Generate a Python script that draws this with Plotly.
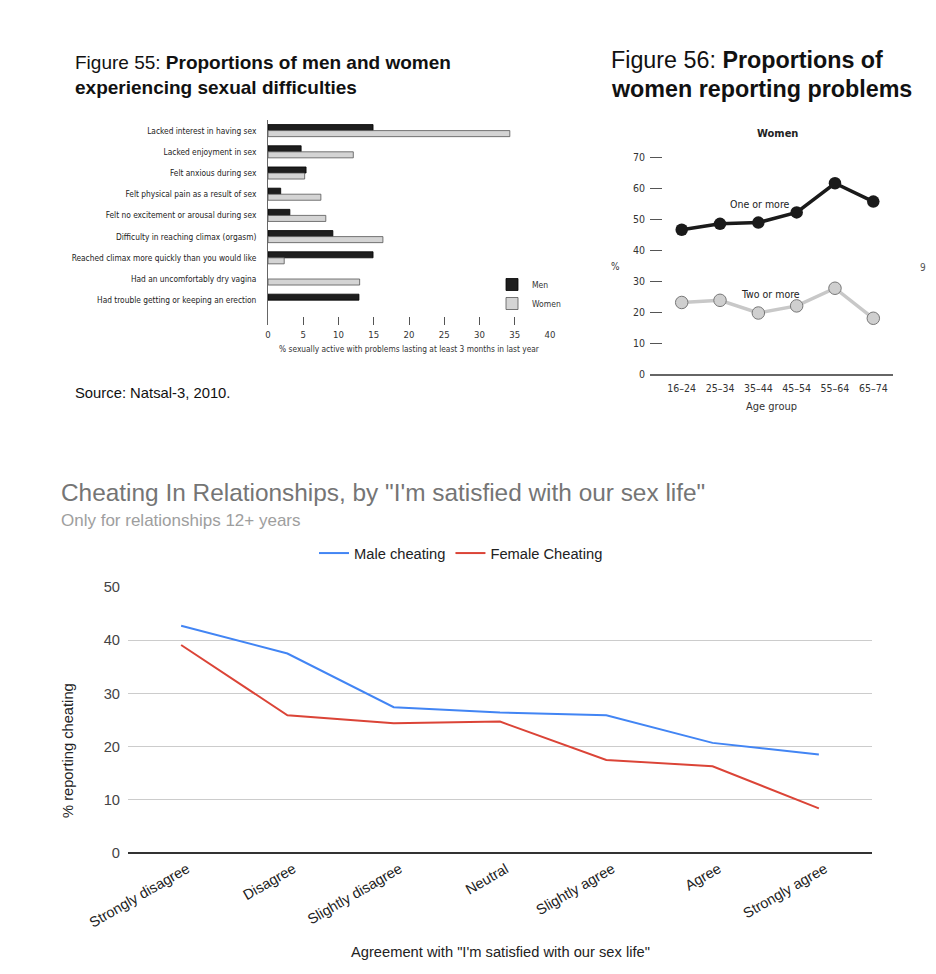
import plotly.graph_objects as go

W, H = 936, 974

def fx(p):
    return p / W

def fy(p):
    return 1 - p / H

NARROW = "Liberation Sans Narrow, Arial Narrow, DejaVu Sans Condensed, Liberation Sans, sans-serif"
ARIAL = "Liberation Sans, Arial, sans-serif"

# ---------------- Figure 55 data ----------------
difficulties = [
    "Lacked interest in having sex",
    "Lacked enjoyment in sex",
    "Felt anxious during sex",
    "Felt physical pain as a result of sex",
    "Felt no excitement or arousal during sex",
    "Difficulty in reaching climax (orgasm)",
    "Reached climax more quickly than you would like",
    "Had an uncomfortably dry vagina",
    "Had trouble getting or keeping an erection",
]
men_pct = [14.9, 4.7, 5.4, 1.8, 3.1, 9.2, 14.9, None, 12.9]
women_pct = [34.3, 12.1, 5.2, 7.5, 8.2, 16.3, 2.3, 13.0, None]
bar_ticks = [0, 5, 10, 15, 20, 25, 30, 35, 40]

# ---------------- Figure 56 data ----------------
age_groups = ["16–24", "25–34", "35–44", "45–54", "55–64", "65–74"]
one_or_more = [46.6, 48.5, 48.9, 52.2, 61.6, 55.7]
two_or_more = [23.1, 23.8, 19.7, 22.0, 27.7, 18.0]
age_ticks = [0, 10, 20, 30, 40, 50, 60, 70]

# ---------------- Cheating chart data ----------------
agreement = ["Strongly disagree", "Disagree", "Slightly disagree", "Neutral",
             "Slightly agree", "Agree", "Strongly agree"]
male_cheating = [42.7, 37.5, 27.4, 26.4, 25.9, 20.7, 18.5]
female_cheating = [39.1, 25.9, 24.4, 24.7, 17.5, 16.3, 8.4]
cheat_ticks = [0, 10, 20, 30, 40, 50]

fig = go.Figure()

# Figure 55 bars
fig.add_trace(go.Bar(
    y=difficulties, x=men_pct, orientation="h", name="Men",
    marker=dict(color="#1e1e1e", line=dict(color="#000000", width=0.8)),
    xaxis="x", yaxis="y", legend="legend2",
))
fig.add_trace(go.Bar(
    y=difficulties, x=women_pct, orientation="h", name="Women",
    marker=dict(color="#d4d4d4", line=dict(color="#555555", width=0.8)),
    xaxis="x", yaxis="y", legend="legend2",
))

# Figure 56 lines
fig.add_trace(go.Scatter(
    x=age_groups, y=one_or_more, mode="lines+markers", name="One or more",
    line=dict(color="#1a1a1a", width=3.5),
    marker=dict(size=12.5, color="#1a1a1a"),
    xaxis="x2", yaxis="y2", showlegend=False,
))
fig.add_trace(go.Scatter(
    x=age_groups, y=two_or_more, mode="lines+markers", name="Two or more",
    line=dict(color="#c8c8c8", width=3.5),
    marker=dict(size=12.5, color="#cfcfcf", line=dict(color="#777777", width=1)),
    xaxis="x2", yaxis="y2", showlegend=False,
))

# Cheating chart lines
fig.add_trace(go.Scatter(
    x=agreement, y=male_cheating, mode="lines", name="Male cheating",
    line=dict(color="#4285F4", width=2),
    xaxis="x3", yaxis="y3",
))
fig.add_trace(go.Scatter(
    x=agreement, y=female_cheating, mode="lines", name="Female Cheating",
    line=dict(color="#DB4437", width=2),
    xaxis="x3", yaxis="y3",
))

# ---- layout ----
band55 = 21.2
top55, bot55 = 120.0, 325.0
yr_bottom = -0.5 + (bot55 - top55) / band55

band56 = 38.33
x56_left, x56_right = 650.0, 893.0
x2_range = [0 - (681.7 - x56_left) / band56, 5 + (x56_right - 873.3) / band56]

layout = dict(
    width=W, height=H,
    margin=dict(l=0, r=0, t=0, b=0, autoexpand=False),
    paper_bgcolor="white", plot_bgcolor="white",
    barmode="group", bargap=0.43, bargroupgap=0.0,
    showlegend=True,
    xaxis=dict(
        domain=[fx(268), fx(550)], range=[0, 40], anchor="y", automargin=False,
        tickvals=bar_ticks, ticks="inside", ticklen=8, tickcolor="#555",
        tickwidth=1, showgrid=False, zeroline=False, showline=False,
        tickfont=dict(family=NARROW, size=9.5, color="#333"),
        ticklabelstandoff=2,
        title=dict(text="% sexually active with problems lasting at least 3 months in last year",
                   font=dict(family=NARROW, size=8.3, color="#333"), standoff=7),
    ),
    yaxis=dict(
        domain=[fy(bot55), fy(top55)], anchor="x", type="category", automargin=False,
        range=[yr_bottom, -0.5], showline=True, linecolor="#666", linewidth=1,
        ticks="", showgrid=False, zeroline=False,
        tickfont=dict(family=NARROW, size=8.3, color="#222"),
        ticklabelstandoff=9,
    ),
    xaxis2=dict(
        domain=[fx(x56_left), fx(x56_right)], range=x2_range, anchor="y2",
        type="category", showline=True, linecolor="#666", linewidth=1.5,
        ticks="", showgrid=False, zeroline=False, tickangle=0, automargin=False,
        tickfont=dict(family=NARROW, size=10.5, color="#333"),
        ticklabelstandoff=4,
        title=dict(text="Age group", font=dict(family=NARROW, size=11, color="#333"),
                   standoff=9),
    ),
    yaxis2=dict(
        domain=[fy(374), fy(141.8)], range=[0, 75], anchor="x2", automargin=False,
        tickvals=age_ticks, ticks="inside", ticklen=12, tickcolor="#555",
        showline=False, showgrid=False, zeroline=False,
        tickfont=dict(family=NARROW, size=10.5, color="#333"),
        ticklabelstandoff=4,
    ),
    xaxis3=dict(
        domain=[fx(128), fx(872)], anchor="y3", type="category", automargin=False,
        range=[-0.5, len(agreement) - 0.5],
        tickangle=-30, ticks="", showgrid=False, showline=False, zeroline=False,
        tickfont=dict(family=ARIAL, size=14.5, color="#222"),
        ticklabelstandoff=4, ticklabelshift=6,
    ),
    yaxis3=dict(
        domain=[fy(853), fy(587)], range=[0, 50], anchor="x3", automargin=False,
        tickvals=cheat_ticks, showgrid=True, gridcolor="#cccccc", gridwidth=1,
        zeroline=True, zerolinecolor="#333333", zerolinewidth=1.5,
        showline=False, ticks="",
        tickfont=dict(family=ARIAL, size=14.7, color="#444"),
        ticklabelstandoff=7,
    ),
    legend=dict(
        orientation="h", x=fx(314), y=fy(537), xanchor="left", yanchor="top",
        font=dict(family=ARIAL, size=14.7, color="#222"),
        bgcolor="rgba(0,0,0,0)", itemwidth=30,
    ),
    legend2=dict(
        orientation="v", x=fx(492), y=fy(270), xanchor="left", yanchor="top",
        font=dict(family=NARROW, size=8.5, color="#333"),
        bgcolor="rgba(0,0,0,0)", itemwidth=30, tracegroupgap=0,
    ),
)
fig.update_layout(**layout)

ann = []
# Figure 55 title
ann.append(dict(x=fx(73), y=fy(63), xref="paper", yref="paper", xanchor="left", yanchor="middle",
                showarrow=False, align="left",
                text="Figure 55: <b>Proportions of men and women</b>",
                font=dict(family=ARIAL, size=19, color="#111")))
ann.append(dict(x=fx(73), y=fy(87), xref="paper", yref="paper", xanchor="left", yanchor="middle",
                showarrow=False, align="left",
                text="<b>experiencing sexual difficulties</b>",
                font=dict(family=ARIAL, size=19, color="#111")))
ann.append(dict(x=fx(73), y=fy(393), xref="paper", yref="paper", xanchor="left", yanchor="middle",
                showarrow=False, text="Source: Natsal-3, 2010.",
                font=dict(family=ARIAL, size=14.8, color="#111")))
# Figure 56 title
ann.append(dict(x=fx(609), y=fy(60), xref="paper", yref="paper", xanchor="left", yanchor="middle",
                showarrow=False, text="Figure 56: <b>Proportions of</b>",
                font=dict(family=ARIAL, size=23.3, color="#111")))
ann.append(dict(x=fx(609), y=fy(89), xref="paper", yref="paper", xanchor="left", yanchor="middle",
                showarrow=False, text="<b>women reporting problems</b>",
                font=dict(family=ARIAL, size=23.3, color="#111")))
ann.append(dict(x=fx(777), y=fy(134), xref="paper", yref="paper", xanchor="center", yanchor="middle",
                showarrow=False, text="<b>Women</b>",
                font=dict(family=NARROW, size=11, color="#222")))
ann.append(dict(x=fx(615), y=fy(266), xref="paper", yref="paper", xanchor="center", yanchor="middle",
                showarrow=False, text="%", font=dict(family=NARROW, size=10, color="#333")))
ann.append(dict(x=fx(923), y=fy(267), xref="paper", yref="paper", xanchor="center", yanchor="middle",
                showarrow=False, text="9", font=dict(family=NARROW, size=10, color="#555")))
ann.append(dict(x=age_groups[2], y=one_or_more[2] + 6, xref="x2", yref="y2",
                xanchor="center", yanchor="middle", xshift=2,
                showarrow=False, text="One or more",
                font=dict(family=NARROW, size=10.5, color="#222")))
ann.append(dict(x=age_groups[2], y=two_or_more[2] + 6.2, xref="x2", yref="y2",
                xanchor="center", yanchor="middle", xshift=12,
                showarrow=False, text="Two or more",
                font=dict(family=NARROW, size=10.5, color="#222")))
# Cheating chart titles
ann.append(dict(x=fx(59), y=fy(492), xref="paper", yref="paper", xanchor="left", yanchor="middle",
                showarrow=False,
                text="Cheating In Relationships, by \"I'm satisfied with our sex life\"",
                font=dict(family=ARIAL, size=24.4, color="#757575")))
ann.append(dict(x=fx(59), y=fy(520), xref="paper", yref="paper", xanchor="left", yanchor="middle",
                showarrow=False, text="Only for relationships 12+ years",
                font=dict(family=ARIAL, size=17, color="#9e9e9e")))
ann.append(dict(x=fx(68), y=fy(751), xref="paper", yref="paper", xanchor="center", yanchor="middle",
                showarrow=False, textangle=-90, text="% reporting cheating",
                font=dict(family=ARIAL, size=14.7, color="#222")))
ann.append(dict(x=fx(500), y=fy(952), xref="paper", yref="paper", xanchor="center", yanchor="middle",
                showarrow=False, text="Agreement with \"I'm satisfied with our sex life\"",
                font=dict(family=ARIAL, size=14.7, color="#222")))
fig.update_layout(annotations=ann)

fig.write_html("out.html", config={"displayModeBar": False},
               post_script="document.body.style.margin='0';document.body.style.overflow='hidden';")
